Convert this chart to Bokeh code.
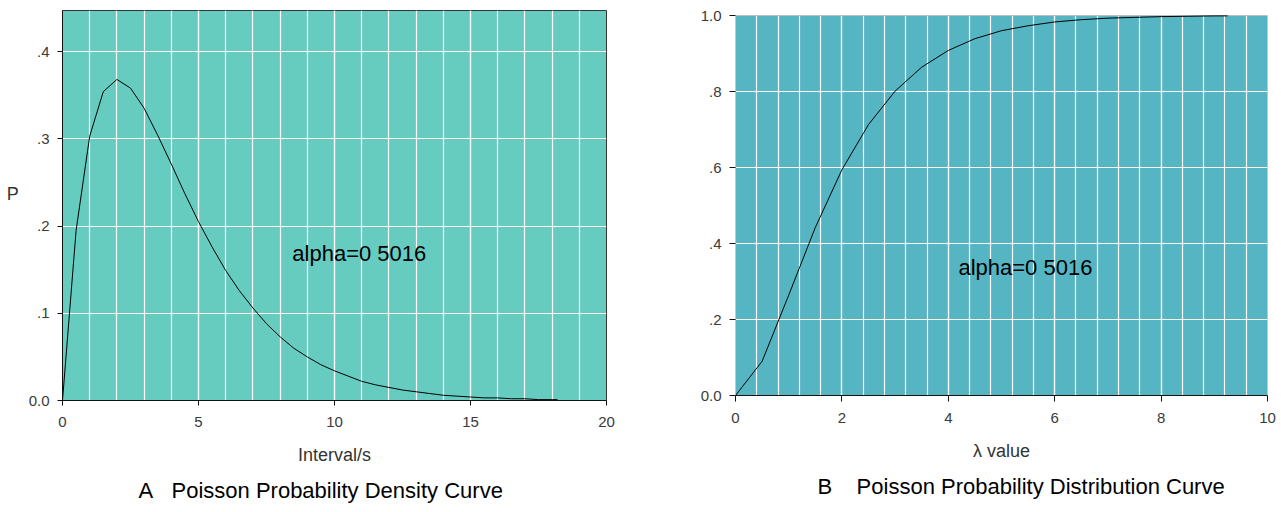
from bokeh.plotting import figure
from bokeh.layouts import row
from bokeh.models import FixedTicker, Label, Title, Range1d, BoxAnnotation
from bokeh.embed import file_html
from bokeh.resources import INLINE

# ---- data ----
density_x = [0, 0.5, 1, 1.5, 2, 2.5, 3, 3.5, 4, 4.5, 5, 5.5, 6, 6.5, 7, 7.5, 8, 8.5,
             9, 9.5, 10, 10.5, 11, 11.5, 12, 12.5, 13, 13.5, 14, 14.5, 15, 15.5,
             16, 16.5, 17, 17.5, 18, 18.2]
density_p = [0.0, 0.195, 0.303, 0.354, 0.368, 0.358, 0.335, 0.304, 0.271, 0.237,
             0.205, 0.176, 0.149, 0.126, 0.106, 0.088, 0.073, 0.060, 0.050, 0.041,
             0.034, 0.028, 0.022, 0.018, 0.015, 0.012, 0.010, 0.008, 0.006, 0.005,
             0.004, 0.003, 0.003, 0.002, 0.002, 0.001, 0.001, 0.001]

dist_x = [0, 0.5, 1, 1.5, 2, 2.5, 3, 3.5, 4, 4.5, 5, 5.5, 6, 6.5, 7, 7.5, 8, 8.5, 9, 9.25]
dist_p = [0.0, 0.090, 0.264, 0.442, 0.594, 0.713, 0.801, 0.864, 0.908, 0.939, 0.960,
          0.973, 0.983, 0.989, 0.993, 0.995, 0.997, 0.998, 0.999, 0.999]

left_x_ticks = [0, 5, 10, 15, 20]
left_y_ticks = [0, 0.1, 0.2, 0.3, 0.4]
left_y_labels = ["0.0", ".1", ".2", ".3", ".4"]
right_x_ticks = [0, 2, 4, 6, 8, 10]
right_y_ticks = [0, 0.2, 0.4, 0.6, 0.8, 1.0]
right_y_labels = ["0.0", ".2", ".4", ".6", ".8", "1.0"]

annotation_text = "alpha=0 5016"
title_a = "A\u00a0\u00a0\u00a0Poisson Probability Density Curve"
title_b = "B\u00a0\u00a0\u00a0\u00a0Poisson Probability Distribution Curve"

FONT = "Liberation Sans"
TICK_COLOR = "#3a3a3a"
BG_A = "#66CCC0"
BG_B = "#55B5C2"


def style(p, xt, xminor, yt, ylabels, xlabel, ylabel, tick_out):
    p.xaxis.ticker = FixedTicker(ticks=xt, minor_ticks=xminor)
    p.yaxis.ticker = FixedTicker(ticks=yt)
    p.yaxis.major_label_overrides = {t: l for t, l in zip(yt, ylabels)}
    for ax in (p.xaxis[0], p.yaxis[0]):
        ax.axis_line_color = "#111111"
        ax.major_tick_line_color = "#111111"
        ax.major_tick_out = tick_out
        ax.major_tick_in = 0
        ax.minor_tick_line_color = None
        ax.major_label_text_font = FONT
        ax.major_label_text_font_size = "15px"
        ax.major_label_text_color = TICK_COLOR
        ax.axis_label_text_font = FONT
        ax.axis_label_text_font_size = "18px"
        ax.axis_label_text_font_style = "normal"
        ax.axis_label_text_color = "#333333"
    p.xaxis.axis_label = xlabel
    p.yaxis.axis_label = ylabel
    p.yaxis.axis_label_orientation = "horizontal"
    p.xaxis.major_label_standoff = 11
    p.yaxis.major_label_standoff = 8
    p.xaxis.axis_label_standoff = 15
    p.yaxis.axis_label_standoff = 7
    p.xgrid.grid_line_color = "white"
    p.xgrid.grid_line_width = 1.2
    p.xgrid.minor_grid_line_color = "white"
    p.xgrid.minor_grid_line_width = 1.2
    p.ygrid.grid_line_color = "white"
    p.ygrid.grid_line_width = 1.2


# ---- Panel A ----
p1 = figure(frame_width=544, frame_height=390,
            min_border_left=62, min_border_right=40, min_border_top=10, min_border_bottom=100,
            x_range=Range1d(0, 20), y_range=Range1d(0, 0.447),
            output_backend="svg", toolbar_location=None,
            background_fill_color=BG_A, border_fill_color="white")
style(p1, left_x_ticks, list(range(21)), left_y_ticks, left_y_labels, "Interval/s",
      "P\n\u00a0", 5)
p1.outline_line_color = "#333333"
p1.line(density_x, density_p, line_color="black", line_width=1)
p1.add_layout(Label(x=8.45, y=0.169, text=annotation_text, text_font=FONT,
                    text_font_size="22px", text_color="black", text_baseline="middle"))
p1.add_layout(Title(text=title_a, align="left", offset=76, text_font=FONT,
                    text_font_size="22px", text_font_style="normal", text_color="black",
                    standoff=16), "below")

# ---- Panel B ----
B_YMAX = 1.0
p2 = figure(frame_width=532, frame_height=385,
            min_border_left=89, min_border_right=12, min_border_top=10, min_border_bottom=100,
            x_range=Range1d(0, 10), y_range=Range1d(0, B_YMAX + 5 / 380),
            output_backend="svg", toolbar_location=None,
            background_fill_color="white", border_fill_color="white")
style(p2, right_x_ticks, [round(0.4 * i, 1) for i in range(1, 25)], right_y_ticks,
      right_y_labels, "\u03bb value", "", 6)
p2.outline_line_color = None
p2.yaxis.axis_line_color = None
p2.add_layout(BoxAnnotation(left=0, right=10, bottom=0, top=B_YMAX, fill_color=BG_B,
                            fill_alpha=1, line_color=None, level="image"))
p2.add_layout(BoxAnnotation(left=0, right=10, bottom=0, top=B_YMAX, fill_alpha=0,
                            line_color="#222222", line_width=1, level="overlay"))
p2.line(dist_x, dist_p, line_color="black", line_width=1)
p2.add_layout(Label(x=4.19, y=0.338, text=annotation_text, text_font=FONT,
                    text_font_size="22px", text_color="black", text_baseline="middle"))
p2.add_layout(Title(text=title_b, align="left", offset=82, text_font=FONT,
                    text_font_size="22px", text_font_style="normal", text_color="black",
                    standoff=16), "below")

layout = row(p1, p2)
open("out.html", "w").write(file_html(layout, INLINE))
